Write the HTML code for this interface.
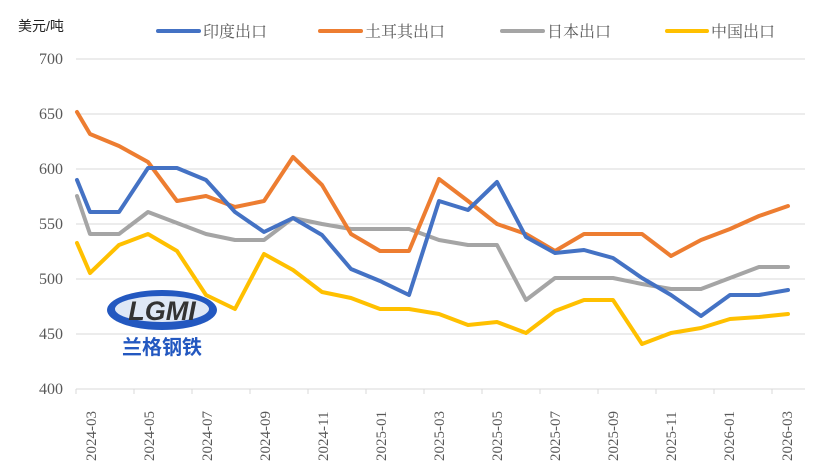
<!DOCTYPE html>
<html><head><meta charset="utf-8"><style>
html,body{margin:0;padding:0;background:#fff;}
svg{display:block;}
.s{font-family:"Liberation Sans","Noto Sans CJK SC",sans-serif;}
.n{font-family:"Liberation Serif","Noto Serif CJK SC",serif;}
.c{font-family:"Liberation Serif","Noto Serif CJK SC",serif;}
.k{font-family:"Noto Sans CJK SC",sans-serif;}
</style></head><body>
<svg width="827" height="472" viewBox="0 0 827 472" xmlns="http://www.w3.org/2000/svg">
<rect width="827" height="472" fill="#fff"/>
<text class="s" x="18" y="31" font-size="14" fill="#222">美元/吨</text>
<g stroke="#d9d9d9" stroke-width="1">
<line x1="76" y1="59" x2="805" y2="59"/><line x1="76" y1="114" x2="805" y2="114"/>
<line x1="76" y1="169" x2="805" y2="169"/><line x1="76" y1="224" x2="805" y2="224"/>
<line x1="76" y1="279" x2="805" y2="279"/><line x1="76" y1="334" x2="805" y2="334"/>
<line x1="76" y1="389" x2="805" y2="389"/>
<line x1="76" y1="389" x2="76" y2="394"/><line x1="134" y1="389" x2="134" y2="394"/><line x1="192" y1="389" x2="192" y2="394"/><line x1="250" y1="389" x2="250" y2="394"/><line x1="308" y1="389" x2="308" y2="394"/><line x1="366" y1="389" x2="366" y2="394"/><line x1="424" y1="389" x2="424" y2="394"/><line x1="482" y1="389" x2="482" y2="394"/><line x1="540" y1="389" x2="540" y2="394"/><line x1="598" y1="389" x2="598" y2="394"/><line x1="656" y1="389" x2="656" y2="394"/><line x1="714" y1="389" x2="714" y2="394"/><line x1="772" y1="389" x2="772" y2="394"/>
</g>
<g class="n" font-size="16" fill="#595959" text-anchor="end">
<text x="63" y="64">700</text><text x="63" y="119">650</text><text x="63" y="174">600</text><text x="63" y="229">550</text><text x="63" y="284">500</text><text x="63" y="339">450</text><text x="63" y="394">400</text>
</g>
<g class="n" font-size="15" fill="#595959">
<text transform="translate(96,461) rotate(-90)">2024-03</text>
<text transform="translate(154,461) rotate(-90)">2024-05</text>
<text transform="translate(212,461) rotate(-90)">2024-07</text>
<text transform="translate(270,461) rotate(-90)">2024-09</text>
<text transform="translate(328,461) rotate(-90)">2024-11</text>
<text transform="translate(386,461) rotate(-90)">2025-01</text>
<text transform="translate(444,461) rotate(-90)">2025-03</text>
<text transform="translate(502,461) rotate(-90)">2025-05</text>
<text transform="translate(560,461) rotate(-90)">2025-07</text>
<text transform="translate(618,461) rotate(-90)">2025-09</text>
<text transform="translate(676,461) rotate(-90)">2025-11</text>
<text transform="translate(734,461) rotate(-90)">2026-01</text>
<text transform="translate(792,461) rotate(-90)">2026-03</text>
</g>
<!-- logo -->
<ellipse cx="162" cy="310" rx="55" ry="20" fill="#2358c0"/>
<ellipse cx="162" cy="309" rx="47" ry="13" fill="#dfe8f6"/>
<text class="s" x="162" y="320" font-size="27" font-weight="bold" text-anchor="middle" fill="#333" font-style="italic">LGMI</text>
<text class="k" x="162" y="354" font-size="20" font-weight="bold" text-anchor="middle" fill="#2358c0">兰格钢铁</text>
<g fill="none" stroke-width="4" stroke-linejoin="round" stroke-linecap="round">
<polyline stroke="#ffc000" points="77,243 90,273 119,245 148,234 177,251 206,295 235,309 264,254 293,270 322,292 351,298 380,309 409,309 439,314 468,325 497,322 526,333 555,311 584,300 613,300 642,344 671,333 701,328 730,319 759,317 788,314"/>
<polyline stroke="#a5a5a5" points="77,196 90,234 119,234 148,212 177,223 206,234 235,240 264,240 293,218 322,224 351,229 380,229 409,229 439,240 468,245 497,245 526,300 555,278 584,278 613,278 642,284 671,289 701,289 730,278 759,267 788,267"/>
<polyline stroke="#ed7d31" points="77,112 90,134 119,146 148,162 177,201 206,196 235,207 264,201 293,157 322,185 351,234 380,251 409,251 439,179 468,201 497,224 526,234 555,251 584,234 613,234 642,234 671,256 701,240 730,229 759,216 788,206"/>
<polyline stroke="#4472c4" points="77,180 90,212 119,212 148,168 177,168 206,180 235,212 264,232 293,218 322,235 351,269 380,281 409,295 439,201 468,210 497,182 526,237 555,253 584,250 613,258 642,278 671,295 701,316 730,295 759,295 788,290"/>
</g>
<g stroke-width="4" stroke-linecap="round">
<line x1="158" y1="31" x2="199" y2="31" stroke="#4472c4"/>
<line x1="320" y1="31" x2="361" y2="31" stroke="#ed7d31"/>
<line x1="502" y1="31" x2="543" y2="31" stroke="#a5a5a5"/>
<line x1="667" y1="31" x2="707" y2="31" stroke="#ffc000"/>
</g>
<g class="c" font-size="16" fill="#595959">
<text x="203" y="37">印度出口</text>
<text x="365" y="37">土耳其出口</text>
<text x="547" y="37">日本出口</text>
<text x="711" y="37">中国出口</text>
</g>
</svg>
</body></html>
